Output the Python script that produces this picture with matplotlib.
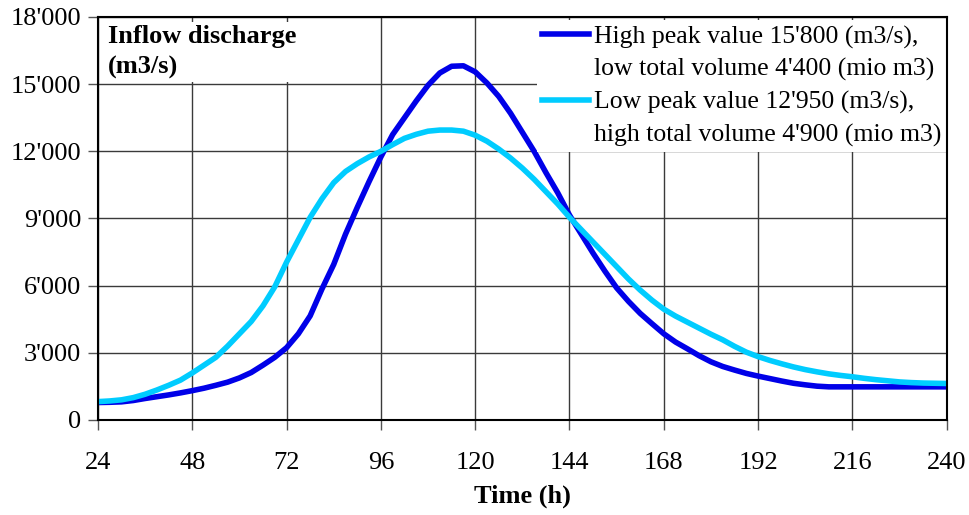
import matplotlib
matplotlib.use("Agg")
import matplotlib.pyplot as plt
from matplotlib.lines import Line2D
from matplotlib.ticker import FuncFormatter, MultipleLocator

plt.rcParams['font.family'] = ['Liberation Serif', 'DejaVu Serif']

# Time axis (hours), 3-hour steps
hours = list(range(24, 241, 3))

# Hydrograph with high peak / low volume (m3/s)
high_peak = [780, 790, 810, 870, 960, 1040, 1120, 1210, 1310, 1420,
             1550, 1690, 1880, 2120, 2450, 2800, 3230, 3850, 4650, 5850,
             6950, 8300, 9500, 10650, 11750, 12750, 13500, 14250, 14950, 15500,
             15800, 15820, 15550, 15050, 14450, 13700, 12850, 12000, 11050, 10150,
             9150, 8300, 7450, 6650, 5900, 5300, 4760, 4300, 3850, 3480,
             3180, 2870, 2600, 2390, 2230, 2080, 1960, 1850, 1740, 1640,
             1570, 1510, 1480, 1480, 1480, 1480, 1480, 1480, 1480, 1480,
             1480, 1480, 1480]

# Hydrograph with low peak / high volume (m3/s)
low_peak = [820, 850, 900, 1000, 1150, 1340, 1550, 1780, 2100, 2450,
            2800, 3300, 3850, 4400, 5100, 5950, 7050, 8050, 9050, 9880,
            10600, 11100, 11450, 11750, 12000, 12300, 12580, 12760, 12900, 12950,
            12950, 12900, 12720, 12450, 12100, 11700, 11250, 10750, 10200, 9650,
            9050, 8500, 7950, 7400, 6850, 6300, 5800, 5350, 4950, 4640,
            4370, 4100, 3830, 3580, 3290, 3030, 2830, 2660, 2510, 2370,
            2250, 2150, 2060, 1990, 1930, 1860, 1800, 1750, 1700, 1670,
            1650, 1640, 1630]

label_high = ["High peak value 15'800 (m3/s),", "low total volume 4'400 (mio m3)"]
label_low = ["Low peak value 12'950 (m3/s),", "high total volume 4'900 (mio m3)"]
x_ticks = list(range(24, 241, 24))

FS = 19
BLUE = '#0000E8'
CYAN = '#00CCFF'

fig = plt.figure(figsize=(9.7, 5.15), dpi=100)
ax = fig.add_axes([0.101, 0.1845, 0.875, 0.7825])

ax.plot(hours, high_peak, color=BLUE, lw=4.0, zorder=3, solid_joinstyle='round')
ax.plot(hours, low_peak, color=CYAN, lw=4.0, zorder=4, solid_joinstyle='round')

ax.set_xlim(24, 240)
ax.set_ylim(0, 18000)
ax.set_xticks(x_ticks)
ax.yaxis.set_major_locator(MultipleLocator(3000))
ax.yaxis.set_major_formatter(FuncFormatter(lambda v, p: f"{int(v):,}".replace(",", "'")))

ax.grid(True, color='#3a3a3a', lw=1.0, zorder=1)
ax.set_axisbelow(True)
for s in ax.spines.values():
    s.set_color('black')
    s.set_linewidth(1.5)
    s.set_zorder(6)

ax.tick_params(axis='both', direction='out', length=7, width=1.0, color='#555555',
               labelsize=FS)
ax.tick_params(axis='x', pad=16)
ax.tick_params(axis='y', pad=5)

ax.set_xlabel('Time (h)', fontsize=FS, fontweight='bold', labelpad=8)

ax.text(0.012, 0.98, 'Inflow discharge\n(m3/s)', transform=ax.transAxes,
        fontsize=FS, fontweight='bold', va='top', ha='left', linespacing=1.4,
        zorder=5,
        bbox=dict(boxstyle='square,pad=0.12', facecolor='white', edgecolor='none'))

# Legend: each series gets a line sample on its first text row only
blank = Line2D([], [], color='none')
handles = [Line2D([], [], color=BLUE, lw=4.0), blank,
           Line2D([], [], color=CYAN, lw=4.0), blank]
labels = label_high + label_low
leg = ax.legend(handles, labels, loc='upper right', bbox_to_anchor=(1.0, 0.992),
                fontsize=18.5, frameon=True, fancybox=False, facecolor='white',
                edgecolor='none', framealpha=1.0, borderaxespad=0.0,
                borderpad=0.2, handlelength=1.8, handletextpad=0.22,
                labelspacing=0.36)
leg.set_zorder(5)

fig.savefig('out.png', dpi=100, facecolor='white')
